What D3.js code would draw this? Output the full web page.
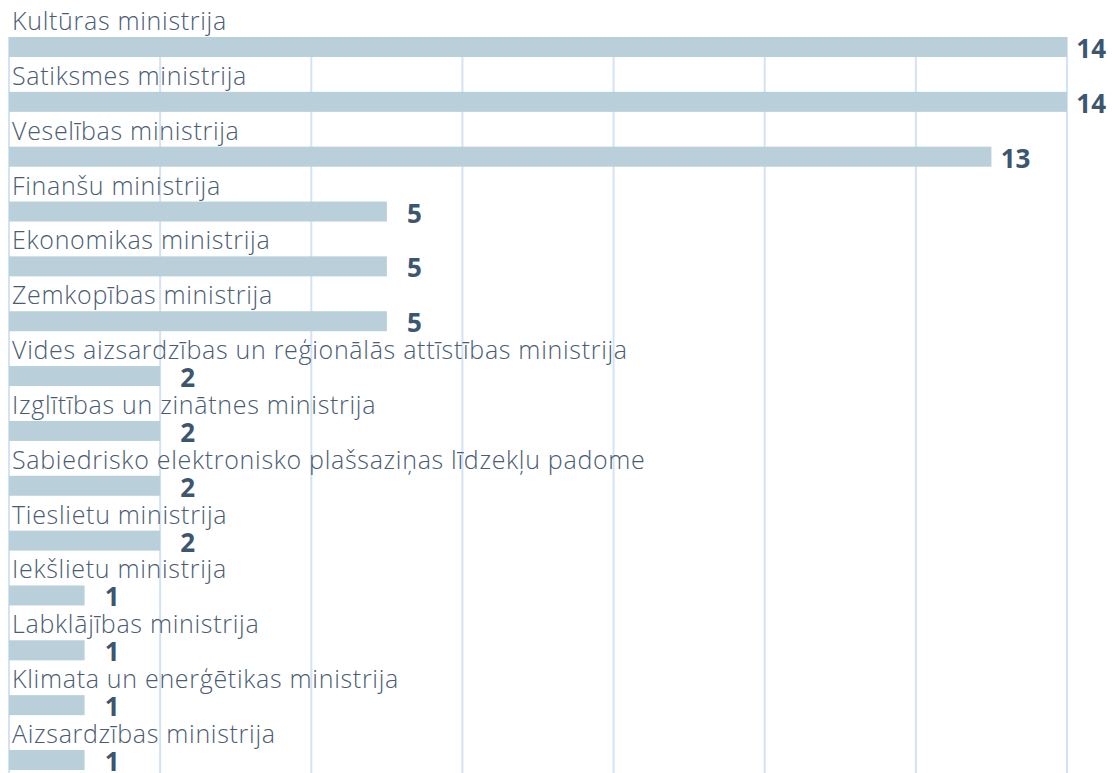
<!DOCTYPE html>
<html>
<head>
<meta charset="utf-8">
<script src="https://cdn.jsdelivr.net/npm/d3@7"></script>
<style>
  html, body { margin: 0; padding: 0; background: #ffffff; }
  svg { display: block; }
</style>
</head>
<body>
<svg id="chart" width="1112" height="773"></svg>
<script>
const categories = [
  "Kultūras ministrija",
  "Satiksmes ministrija",
  "Veselības ministrija",
  "Finanšu ministrija",
  "Ekonomikas ministrija",
  "Zemkopības ministrija",
  "Vides aizsardzības un reģionālās attīstības ministrija",
  "Izglītības un zinātnes ministrija",
  "Sabiedrisko elektronisko plašsaziņas līdzekļu padome",
  "Tieslietu ministrija",
  "Iekšlietu ministrija",
  "Labklājības ministrija",
  "Klimata un enerģētikas ministrija",
  "Aizsardzības ministrija"
];
const values = [14, 14, 13, 5, 5, 5, 2, 2, 2, 2, 1, 1, 1, 1];
const gridTicks = [0, 2, 4, 6, 8, 10, 12, 14];

const svg = d3.select("#chart");
const x = d3.scaleLinear().domain([0, 14]).range([9, 1067]);
const y = d3.scaleBand().domain(categories).range([37, 770]).paddingInner(0.6354).paddingOuter(0);

// gridlines
svg.append("g").selectAll("line").data(gridTicks).join("line")
  .attr("x1", d => x(d)).attr("x2", d => x(d))
  .attr("y1", 37).attr("y2", 773)
  .attr("stroke", "#d3e3f4").attr("stroke-width", 2);

// bars
svg.append("g").selectAll("rect").data(categories).join("rect")
  .attr("x", x(0))
  .attr("y", d => y(d))
  .attr("width", (d, i) => x(values[i]) - x(0))
  .attr("height", y.bandwidth())
  .attr("fill", "#b9cfda");

// category labels
svg.append("g").selectAll("text").data(categories).join("text")
  .attr("x", 12)
  .attr("y", d => y(d) - 7)
  .attr("font-family", "'Open Sans', sans-serif")
  .attr("font-size", 25)
  .attr("font-weight", 300)
  .attr("letter-spacing", 0.7)
  .attr("fill", "#4a5c72")
  .text(d => d);

// value labels
svg.append("g").selectAll("text").data(categories).join("text")
  .attr("x", (d, i) => x(values[i]) + (values[i] >= 10 ? 39 : 35))
  .attr("y", d => y(d) + y.bandwidth() / 2 + 1)
  .attr("dominant-baseline", "central")
  .attr("text-anchor", "end")
  .attr("font-family", "'Open Sans', sans-serif")
  .attr("font-size", 26)
  .attr("font-weight", 700)
  .attr("fill", "#3d5670")
  .text((d, i) => values[i]);
</script>
</body>
</html>
